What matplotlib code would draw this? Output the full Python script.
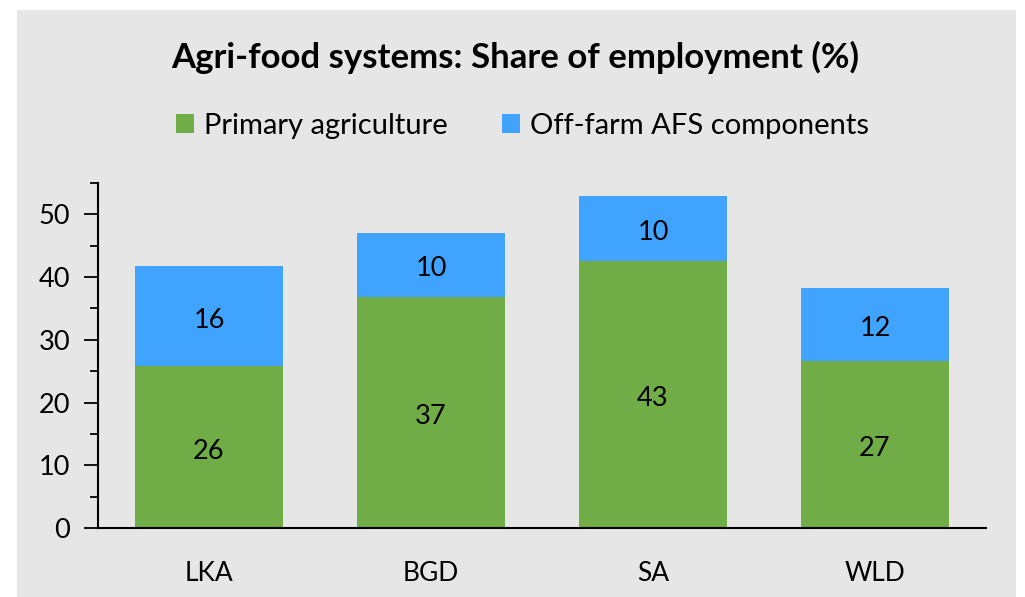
import matplotlib.pyplot as plt
from matplotlib.patches import Rectangle
from matplotlib.ticker import MultipleLocator
import numpy as np

plt.rcParams['font.family'] = ['Lato', 'DejaVu Sans']

categories = ["LKA", "BGD", "SA", "WLD"]
primary = [25.8, 36.9, 42.6, 26.6]
offfarm = [15.9, 10.2, 10.4, 11.6]

green = "#70ad47"
blue = "#40a4ff"
grey = "#e6e6e6"

fig = plt.figure(figsize=(10.25, 5.97), dpi=100)
fig.patch.set_facecolor("white")
fig.patches.append(Rectangle((17/1025, 0), 999/1025, 587/597, transform=fig.transFigure,
                             facecolor=grey, edgecolor="none", zorder=-10))

ax = fig.add_axes([98/1025, 69/597, 888/1025, 345/597])
ax.set_facecolor("none")

x = np.arange(len(categories))
b1 = ax.bar(x, primary, width=0.667, color=green, label="Primary agriculture")
b2 = ax.bar(x, offfarm, width=0.667, bottom=primary, color=blue, label="Off-farm AFS components")
for bars in (b1, b2):
    for t in ax.bar_label(bars, fmt="{:.0f}", label_type="center", fontsize=19.5):
        t.xyann = (0, -3)

ax.set_xlim(-0.5, 3.5)
ax.set_ylim(0, 55)
ax.yaxis.set_major_locator(MultipleLocator(10))
ax.yaxis.set_minor_locator(MultipleLocator(5))
ax.set_xticks(x)
ax.set_xticklabels(categories)
ax.tick_params(axis="x", length=0, pad=24, labelsize=19)
ax.tick_params(axis="y", which="major", length=10, width=1.3, labelsize=19.5, pad=10)
ax.tick_params(axis="y", which="minor", length=6, width=1.3)
for s in ["top", "right"]:
    ax.spines[s].set_visible(False)
for s in ["left", "bottom"]:
    ax.spines[s].set_linewidth(1.5)

fig.text(0.503, 1 - 57/597, "Agri-food systems: Share of employment (%)",
         ha="center", va="center", fontsize=25, fontweight="bold")
fig.legend(handles=[b1, b2], loc="center", bbox_to_anchor=(0.51, 1 - 126/597),
           ncol=2, frameon=False, fontsize=21, handlelength=0.62, handleheight=0.62,
           handletextpad=0.35, columnspacing=1.85)

fig.savefig("out.png", dpi=100)
